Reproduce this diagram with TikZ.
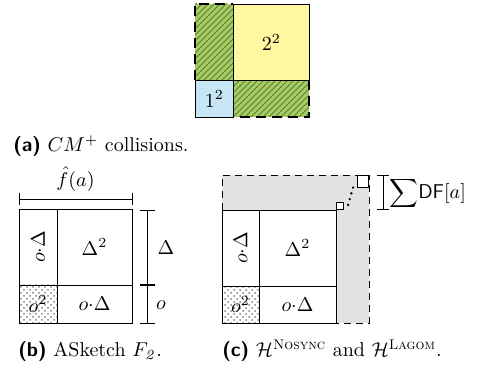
\documentclass[tikz,border=0pt]{standalone}
\usepackage{amsmath,amssymb}
\usetikzlibrary{patterns}
\definecolor{hgreen}{RGB}{158,206,118}
\definecolor{hatch}{RGB}{120,120,0}
\definecolor{pyellow}{RGB}{255,248,160}
\definecolor{pblue}{RGB}{198,230,246}
\definecolor{pgray}{RGB}{226,226,226}
\tikzset{
  cell/.style={draw, line width=0.45pt},
  dashedge/.style={dashed, line width=0.7pt, dash pattern=on 5pt off 3pt},
  thinline/.style={line width=0.45pt},
  captxt/.style={anchor=base west, inner sep=0pt},
  lbl/.style={inner sep=0pt},
  dotcell/.style={pattern=crosshatch dots, pattern color=gray},
}
\newcommand{\lab}[1]{{\sffamily\bfseries(#1)}}
\begin{document}
\begin{tikzpicture}[x=0.5pt,y=-0.5pt]
\useasboundingbox (0,0) rectangle (481,368);
% ---------- (a) ----------
\fill[hgreen] (195,4) rectangle (233,80);
\fill[pattern=north east lines, pattern color=hatch] (195,4) rectangle (233,80);
\fill[hgreen] (233,80) rectangle (309,117);
\fill[pattern=north east lines, pattern color=hatch] (233,80) rectangle (309,117);
\node[cell, fill=pyellow, minimum width=38pt, minimum height=38pt, inner sep=0pt, anchor=north west] (a2) at (233,4) {$2^2$};
\node[cell, fill=pblue, minimum width=19pt, minimum height=18.5pt, inner sep=0pt, anchor=north west] (a1) at (195,80) {$1^2$};
\draw[dashedge] (195,80) -- (195,4) -- (233,4);
\draw[dashedge] (309,80) -- (309,117) -- (233,117);
\draw[thinline] (233,80) -- (309,80);
\draw[thinline] (233,117) -- (233,80);
\node[captxt] (capa) at (13,152) {\lab{a} $CM^{+}$ collisions.};
% ---------- (b) ----------
\fill[dotcell] (19,285) rectangle (57,323);
\draw[cell] (19,209) rectangle (132,323);
\draw[thinline] (57,209) -- (57,323);
\draw[thinline] (19,285) -- (132,285);
\node[lbl, rotate=90] (b1) at (38,247) {$o{\cdot}\Delta$};
\node[lbl] (b2) at (94.5,247) {$\Delta^2$};
\node[lbl] (b3) at (38,304) {$o^2$};
\node[lbl] (b4) at (94.5,304) {$o{\cdot}\Delta$};
% top dimension
\coordinate (ftl) at (19,199);
\coordinate (ftr) at (132,199);
\draw[thinline] (ftl) -- (ftr);
\draw[thinline] (19,193) -- (19,205);
\draw[thinline] (132,193) -- (132,205);
\node[lbl] (fa) at (75.5,179) {$\hat{f}(a)$};
% right dimension
\coordinate (dt) at (147,210);
\coordinate (db) at (147,323);
\draw[thinline] (dt) -- (db);
\draw[thinline] (140,210) -- (155,210);
\draw[thinline] (140,323) -- (155,323);
\draw[line width=1pt] (140,285) -- (155,285);
\node[lbl] (dD) at (166,248) {$\Delta$};
\node[lbl] (dO) at (161,305) {$o$};
\node[captxt] (capb) at (18,357) {\lab{b} ASketch $F_{\mathit{2}}$.};
% ---------- (c) ----------
\fill[pgray] (222,175) rectangle (369,323);
\fill[white] (222,210) rectangle (336,323);
\fill[dotcell] (222,286) rectangle (259,323);
\draw[cell] (222,210) rectangle (336,323);
\draw[thinline] (259,210) -- (259,323);
\draw[thinline] (222,286) -- (336,286);
\draw[dashed, line width=0.45pt, dash pattern=on 3.5pt off 2.5pt] (222,210) -- (222,175) -- (369,175) -- (369,323) -- (336,323);
\node[lbl, rotate=90] (c1) at (240.5,248) {$o{\cdot}\Delta$};
\node[lbl] (c2) at (297.5,248) {$\Delta^2$};
\node[lbl] (c3) at (240.5,304.5) {$o^2$};
\node[lbl] (c4) at (297.5,304.5) {$o{\cdot}\Delta$};
\node[draw, thinline, fill=white, minimum size=3.6pt, inner sep=0pt, anchor=south west] (sq1) at (336,210) {};
\node[draw, thinline, fill=white, minimum size=5.6pt, inner sep=0pt, anchor=north east] (sq2) at (369,175.5) {};
\draw[line width=1.3pt, line cap=round, dash pattern=on 0pt off 3pt] ([shift={(2pt,-1.5pt)}]sq1.north east) -- ([shift={(-1.5pt,1.5pt)}]sq2.south west);
\coordinate (st) at (383,175);
\coordinate (sb) at (383,209);
\draw[thinline] (st) -- (sb);
\draw[thinline] (377,175) -- (389,175);
\draw[thinline] (377,209) -- (389,209);
\node[lbl, anchor=west] (sdf) at (389,194) {${\displaystyle\sum}\mathsf{DF}[a]$};
\node[captxt] (capc) at (222,357) {\lab{c} $\mathcal{H}^{\textsc{Nosync}}$ and $\mathcal{H}^{\textsc{Lagom}}$.};
\end{tikzpicture}
\end{document}
